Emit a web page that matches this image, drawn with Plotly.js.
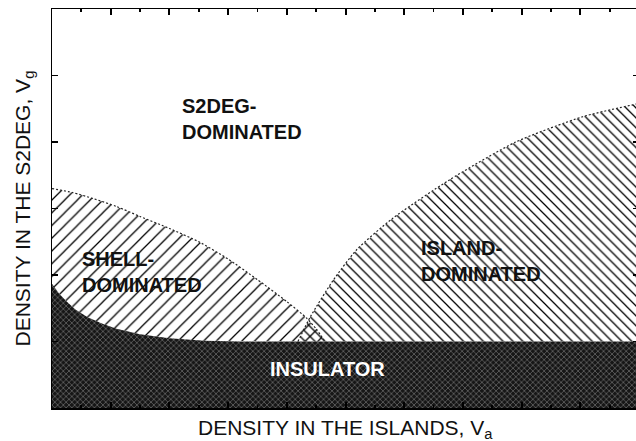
<!DOCTYPE html>
<html>
<head>
<meta charset="utf-8">
<script src="https://cdn.plot.ly/plotly-3.0.1.min.js"></script>
<style>
html,body{margin:0;padding:0;overflow:hidden;background:#fff;}
#chart{width:640px;height:441px;}
</style>
</head>
<body>
<div id="chart"></div>
<script>
// Phase boundaries (x: density in islands, y: density in S2DEG)
var shellX = [0, 0.35, 0.7, 1.1, 1.5, 2.0, 2.5, 3.0, 3.5, 4.0, 4.34, 4.5, 4.65];
var shellY = [3.30, 3.24, 3.15, 3.03, 2.88, 2.70, 2.50, 2.24, 1.93, 1.60, 1.35, 1.19, 1.0];

var islandX = [4.19, 4.4, 4.79, 5.19, 5.8, 6.77, 7.9, 9.04, 10];
var islandY = [1.0, 1.37, 1.92, 2.38, 2.85, 3.43, 4.0, 4.38, 4.58];

var insX = [0, 0.12, 0.25, 0.4, 0.6, 0.85, 1.1, 1.5, 2.0, 2.6, 3.2, 10];
var insY = [1.87, 1.72, 1.6, 1.48, 1.37, 1.27, 1.19, 1.11, 1.05, 1.01, 1.0, 1.0];

var xRange = [0, 10];
var yRange = [0, 6];

var labels = [
  {text: 'S2DEG-<br>DOMINATED', x: 2.18, y: 4.34, color: '#111'},
  {text: 'SHELL-<br>DOMINATED', x: 0.48, y: 2.05, color: '#111'},
  {text: 'ISLAND-<br>DOMINATED', x: 6.25, y: 2.21, color: '#111'}
];
var insLabel = {text: 'INSULATOR', x: 4.70, y: 0.59};

var xTitle = 'DENSITY IN THE ISLANDS, V<sub>a</sub>';
var yTitle = 'DENSITY IN THE S2DEG, V<sub>g</sub>';

// Build polygons
var shellPolyX = shellX.slice(), shellPolyY = shellY.slice();
for (var i = insX.length - 1; i >= 0; i--) {
  if (insX[i] < shellX[shellX.length - 1]) { shellPolyX.push(insX[i]); shellPolyY.push(insY[i]); }
}
var islandPolyX = islandX.concat([xRange[1], islandX[0]]);
var islandPolyY = islandY.concat([1.0, islandY[0]]);
var insPolyX = insX.concat([xRange[1], xRange[0]]);
var insPolyY = insY.concat([yRange[0], yRange[0]]);

var FONT = 'Liberation Sans, Arial, Helvetica, sans-serif';

var traces = [
  {x: shellPolyX, y: shellPolyY, mode: 'lines', fill: 'toself', line: {width: 0, color: 'rgba(0,0,0,0)'},
   fillcolor: 'rgba(0,0,0,0)',
   fillpattern: {shape: '/', size: 9, solidity: 0.14, fgcolor: '#000', bgcolor: 'rgba(0,0,0,0)', fillmode: 'replace'},
   hoverinfo: 'skip', showlegend: false},
  {x: islandPolyX, y: islandPolyY, mode: 'lines', fill: 'toself', line: {width: 0, color: 'rgba(0,0,0,0)'},
   fillcolor: 'rgba(0,0,0,0)',
   fillpattern: {shape: '\\', size: 7, solidity: 0.18, fgcolor: '#000', bgcolor: 'rgba(0,0,0,0)', fillmode: 'replace'},
   hoverinfo: 'skip', showlegend: false},
  {x: insPolyX, y: insPolyY, mode: 'lines', fill: 'toself', line: {width: 0, color: 'rgba(0,0,0,0)'},
   fillcolor: '#1c1c1c',
   fillpattern: {shape: 'x', size: 4, solidity: 0.35, fgcolor: '#666', bgcolor: '#161616', fillmode: 'replace'},
   hoverinfo: 'skip', showlegend: false},
  {x: shellX, y: shellY, mode: 'lines', line: {width: 1.2, color: '#222', dash: '2px,2px', shape: 'spline', smoothing: 0.6},
   hoverinfo: 'skip', showlegend: false},
  {x: islandX, y: islandY, mode: 'lines', line: {width: 1.2, color: '#222', dash: '2px,2px', shape: 'spline', smoothing: 0.6},
   hoverinfo: 'skip', showlegend: false}
];

var annotations = labels.map(function (l) {
  return {text: '<b>' + l.text + '</b>', x: l.x, y: l.y, xref: 'x', yref: 'y', xanchor: 'left', yanchor: 'middle',
          align: 'left', showarrow: false, font: {family: FONT, size: 20, color: l.color}};
});
annotations.push({text: '<b>' + insLabel.text + '</b>', x: insLabel.x, y: insLabel.y, xref: 'x', yref: 'y',
  xanchor: 'center', yanchor: 'middle', showarrow: false, font: {family: FONT, size: 20, color: '#fff'}});
annotations.push({text: xTitle, x: 0.5, y: 0, xref: 'paper', yref: 'paper', xanchor: 'center', yanchor: 'top',
  yshift: -6, showarrow: false, font: {family: FONT, size: 21, color: '#111'}});
annotations.push({text: yTitle, x: 0, y: 0.5, xref: 'paper', yref: 'paper', xanchor: 'right', yanchor: 'middle',
  xshift: -14, textangle: -90, showarrow: false, font: {family: FONT, size: 21, color: '#111'}});

var layout = {
  width: 640, height: 441,
  margin: {l: 52, r: 1, t: 9, b: 33},
  paper_bgcolor: '#fff', plot_bgcolor: '#fff',
  xaxis: {range: xRange, dtick: 1, tick0: 0, showgrid: false, zeroline: false, showticklabels: false,
    showline: true, linecolor: '#000', linewidth: 1.5, mirror: 'ticks', ticks: 'inside', tickcolor: '#000',
    tickwidth: 2, ticklen: 6,
    minor: {ticks: 'inside', ticklen: 3, dtick: 0.5, tick0: 0, tickcolor: '#000', tickwidth: 1.8}},
  yaxis: {range: yRange, dtick: 1, tick0: 0, showgrid: false, zeroline: false, showticklabels: false,
    showline: true, linecolor: '#000', linewidth: 1.5, mirror: 'ticks', ticks: 'inside', tickcolor: '#000',
    tickwidth: 1.4, ticklen: 6},
  annotations: annotations,
  showlegend: false
};

Plotly.newPlot('chart', traces, layout, {staticPlot: true, displayModeBar: false});
</script>
</body>
</html>
